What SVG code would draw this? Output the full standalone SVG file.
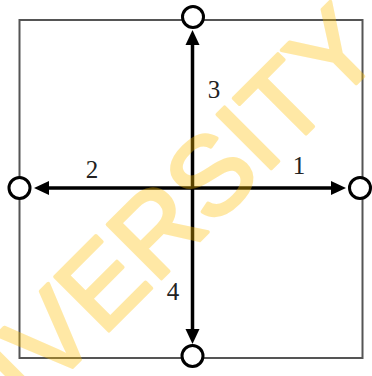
<svg xmlns="http://www.w3.org/2000/svg" width="372" height="376" viewBox="0 0 372 376">
<style>
.frame{fill:none;stroke:#555;stroke-width:2}
.arr{stroke:#000;stroke-width:3.5;fill:none}
.head{fill:#000}
.port{fill:#fff;stroke:#000;stroke-width:3}
.lbl{font-family:"Liberation Serif","Times New Roman",serif;font-size:25px;fill:#222;text-anchor:middle}
.wm{font-family:"Liberation Sans",Arial,sans-serif;font-size:111px;fill:#FFC000;stroke:#FFC000;stroke-width:3.5;stroke-linejoin:round}
</style>
<rect id="frame" class="frame" x="19.5" y="20" width="343" height="338"/>
<g id="connectors">
<line class="arr" x1="192.5" y1="188" x2="192.5" y2="44"/>
<polygon class="head" points="192.5,30 185.5,45 199.5,45"/>
<line class="arr" x1="192.5" y1="188" x2="192.5" y2="330"/>
<polygon class="head" points="192.5,344 185.5,329 199.5,329"/>
<line class="arr" x1="192.5" y1="188" x2="49" y2="188"/>
<polygon class="head" points="34,188 49,181 49,195"/>
<line class="arr" x1="192.5" y1="188" x2="331" y2="188"/>
<polygon class="head" points="346,188 331,181 331,195"/>
</g>
<g id="n3"><circle class="port" cx="193" cy="17" r="10.5"/></g>
<g id="n2"><circle class="port" cx="19.5" cy="188" r="10.5"/></g>
<g id="n1"><circle class="port" cx="360" cy="188" r="10.5"/></g>
<g id="n4"><circle class="port" cx="192.5" cy="356" r="10.5"/></g>
<g id="labels">
<text class="lbl" x="214" y="98">3</text>
<text class="lbl" x="92" y="178">2</text>
<text class="lbl" x="299" y="174">1</text>
<text class="lbl" x="173" y="300">4</text>
</g>
<g id="watermark" opacity="0.35">
<text class="wm" transform="rotate(-45)" x="235" y="311" text-anchor="end">UNIVERSITY</text>
</g>
</svg>
